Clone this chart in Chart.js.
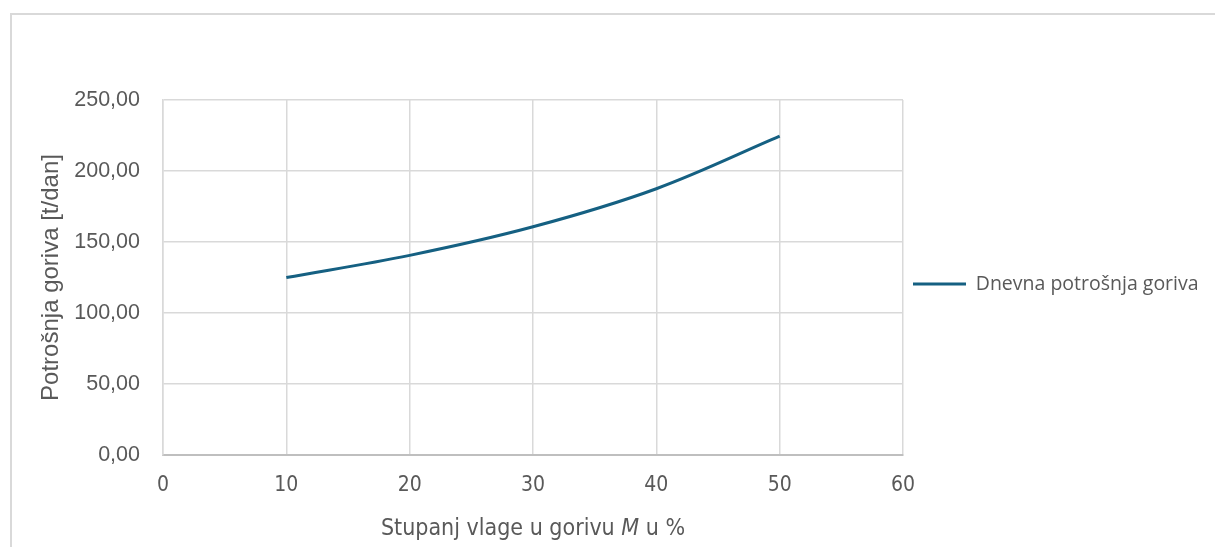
<!DOCTYPE html>
<html><head><meta charset="utf-8">
<script src="https://cdn.jsdelivr.net/npm/chart.js@4/dist/chart.umd.min.js"></script>
<style>
html,body{margin:0;padding:0;background:#fff;overflow:hidden}
#wrap{position:absolute;left:0;top:0;width:1215px;height:547px}
#frame{position:absolute;left:10px;top:13px;width:1300px;height:600px;border:2px solid #d9d9d9;box-sizing:border-box}
</style></head><body>
<div id="frame"></div>
<div id="wrap"><canvas id="c"></canvas></div>
<script>
const moisture = [10, 20, 30, 40, 50];
const consumption = [125.0, 140.6, 160.7, 187.5, 224.5];
const seriesName = 'Dnevna potrošnja goriva';
const yTitle = 'Potrošnja goriva [t/dan]';
const xTitleParts = [['Stupanj vlage u gorivu ', false], ['M', true], [' u %', false]];

const LINE = '#156082';
const TXT = '#595959';
const NARROW = "'Liberation Sans Narrow', 'DejaVu Sans Condensed', 'Liberation Sans', sans-serif";

const xTitlePlugin = {
  id: 'xTitle',
  afterDraw(chart) {
    const xs = chart.scales.x;
    const ctx = chart.ctx;
    ctx.save();
    ctx.fillStyle = TXT;
    ctx.textBaseline = 'middle';
    ctx.textAlign = 'left';
    const size = 23;
    const fontOf = it => (it ? 'italic ' : '') + size + 'px ' + NARROW;
    let total = 0;
    xTitleParts.forEach(([t, it]) => { ctx.font = fontOf(it); total += ctx.measureText(t).width; });
    let x = (xs.left + xs.right) / 2 - total / 2;
    const y = xs.bottom - 18;
    xTitleParts.forEach(([t, it]) => { ctx.font = fontOf(it); ctx.fillText(t, x, y); x += ctx.measureText(t).width; });
    ctx.restore();
  }
};

new Chart(document.getElementById('c'), {
  type: 'line',
  data: {
    datasets: [{
      label: seriesName,
      data: moisture.map((m, i) => ({x: m, y: consumption[i]})),
      borderColor: LINE,
      backgroundColor: LINE,
      borderWidth: 3,
      pointRadius: 0,
      tension: 0.35,
      fill: false
    }]
  },
  options: {
    responsive: true,
    maintainAspectRatio: false,
    animation: false,
    layout: {padding: {top: 100, right: 11, bottom: 0, left: 0}},
    plugins: {
      tooltip: {enabled: false},
      legend: {
        position: 'right',
        align: 'center',
        fullSize: false,
        title: {display: true, text: ' ', font: {size: 10}, padding: {top: 0, bottom: 1}},
        labels: {
          boxWidth: 53,
          boxHeight: 3,
          padding: 10,
          color: TXT,
          font: {family: 'Open Sans', size: 19.5},
          generateLabels(chart) {
            const items = Chart.defaults.plugins.legend.labels.generateLabels(chart);
            items.forEach(it => { it.lineWidth = 0; it.fillStyle = LINE; });
            return items;
          }
        }
      }
    },
    scales: {
      x: {
        type: 'linear',
        min: 0, max: 60,
        ticks: {stepSize: 10, color: TXT, font: {family: NARROW, size: 21}, padding: 18, maxRotation: 0},
        grid: {color: '#d9d9d9', lineWidth: 1.5, drawTicks: false},
        border: {color: '#bfbfbf', width: 2},
        afterFit(s) { s.height = 92; }
      },
      y: {
        min: 0, max: 250,
        ticks: {stepSize: 50, color: TXT, font: {family: 'Liberation Sans', size: 21.5}, padding: 23,
          callback: v => v.toFixed(2).replace('.', ',')},
        grid: {color: '#d9d9d9', lineWidth: 1.5, drawTicks: false},
        border: {color: '#d9d9d9', width: 1.5},
        title: {display: true, text: yTitle, color: TXT, font: {family: 'Liberation Sans', size: 24}, padding: {top: 37, bottom: 0}},
        afterFit(s) { s.width = 163; }
      }
    }
  },
  plugins: [xTitlePlugin]
});
</script>
</body></html>
